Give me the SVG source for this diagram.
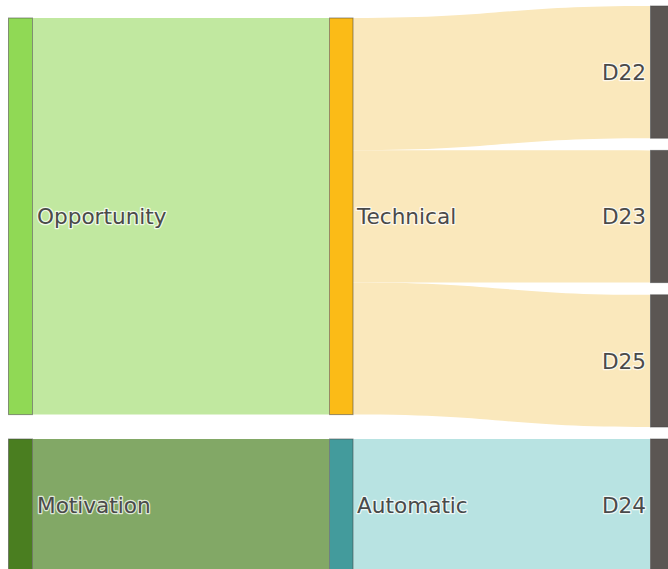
<svg xmlns="http://www.w3.org/2000/svg" width="668" height="569" viewBox="0 0 668 569">
<style>
.node{stroke:#444;stroke-opacity:0.55;stroke-width:1}
.lbl{font-family:"DejaVu Sans","Liberation Sans",sans-serif;font-size:21.6px;fill:#4a4a4a;stroke:#fff;stroke-width:2.5;stroke-opacity:0.75;stroke-linejoin:round;paint-order:stroke}
.end{text-anchor:end}
</style>
<rect x="0" y="0" width="668" height="569" fill="#fff"/>
<g id="links">
<path d="M33,18 L329,18 L329,414.6 L33,414.6 Z" fill="#c1e8a0"/>
<path d="M33,439 L329,439 L329,571.2 L33,571.2 Z" fill="#82a866"/>
<path d="M353,18 C501.5,18 501.5,6 650,6 L650,138.2 C501.5,138.2 501.5,150.2 353,150.2 Z" fill="#fae8bc"/>
<path d="M353,150.2 C501.5,150.2 501.5,150.4 650,150.4 L650,282.6 C501.5,282.6 501.5,282.4 353,282.4 Z" fill="#fae8bc"/>
<path d="M353,282.4 C501.5,282.4 501.5,294.8 650,294.8 L650,427 C501.5,427 501.5,414.6 353,414.6 Z" fill="#fae8bc"/>
<path d="M353,439 L650,439 L650,571.2 L353,571.2 Z" fill="#b8e3e2"/>
</g>
<g id="node-opportunity">
<rect class="node" x="8.5" y="18" width="24" height="396.6" fill="#90d955"/>
<text class="lbl" x="37" y="224">Opportunity</text>
</g>
<g id="node-motivation">
<rect class="node" x="8.5" y="439" width="24" height="132.2" fill="#4a7e20"/>
<text class="lbl" x="37" y="512.8">Motivation</text>
</g>
<g id="node-technical">
<rect class="node" x="329.5" y="18" width="23.5" height="396.6" fill="#fbbb17"/>
<text class="lbl" x="357" y="224">Technical</text>
</g>
<g id="node-automatic">
<rect class="node" x="329.5" y="439" width="23.5" height="132.2" fill="#439b9c"/>
<text class="lbl" x="357" y="512.8">Automatic</text>
</g>
<g id="node-d22">
<rect class="node" x="650.5" y="6" width="24" height="132.2" fill="#5b5653"/>
<text class="lbl end" x="646" y="79.8">D22</text>
</g>
<g id="node-d23">
<rect class="node" x="650.5" y="150.4" width="24" height="132.2" fill="#5b5653"/>
<text class="lbl end" x="646" y="224.2">D23</text>
</g>
<g id="node-d25">
<rect class="node" x="650.5" y="294.8" width="24" height="132.2" fill="#5b5653"/>
<text class="lbl end" x="646" y="368.6">D25</text>
</g>
<g id="node-d24">
<rect class="node" x="650.5" y="439" width="24" height="132.2" fill="#5b5653"/>
<text class="lbl end" x="646" y="512.8">D24</text>
</g>
</svg>
